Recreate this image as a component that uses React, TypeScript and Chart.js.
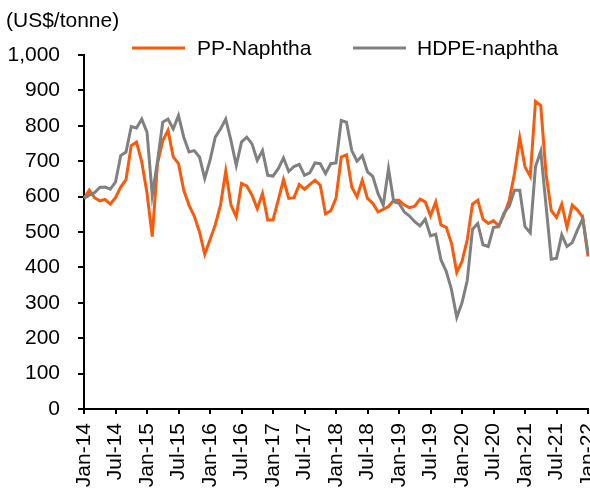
import React, { useEffect, useRef } from 'react';
import { Chart, registerables } from 'chart.js';

Chart.register(...registerables);

// ---- Data ----
const MONTH_NAMES = ['Jan', 'Feb', 'Mar', 'Apr', 'May', 'Jun', 'Jul', 'Aug', 'Sep', 'Oct', 'Nov', 'Dec'];
const START_YEAR = 14; // Jan-14 ... Jan-22, monthly

const ppNaphtha = [
  595, 618, 597, 588, 592, 579, 597, 627, 648, 744,
  754, 698, 610, 487, 693, 758, 787, 712, 693, 618,
  576, 545, 500, 437, 478, 520, 576, 672, 576, 543,
  637, 630, 604, 566, 609, 534, 534, 590, 648, 595,
  597, 634, 621, 634, 646, 632, 551, 560, 595, 712,
  718, 627, 599, 646, 595, 581, 557, 564, 572, 590,
  590, 576, 569, 573, 593, 585, 546, 585, 520, 513,
  468, 386, 417, 478, 579, 590, 536, 524, 532, 517,
  548, 590, 665, 766, 684, 657, 869, 857, 665, 560,
  541, 579, 513, 576, 562, 541, 431,
];

const hdpeNaphtha = [
  595, 604, 611, 626, 627, 621, 641, 716, 726, 798,
  794, 819, 782, 604, 700, 810, 819, 791, 829, 768,
  726, 730, 712, 651, 702, 768, 791, 819, 758, 688,
  754, 768, 749, 702, 730, 660, 658, 679, 709, 671,
  685, 691, 660, 667, 695, 693, 665, 693, 695, 815,
  810, 730, 700, 716, 670, 657, 609, 576, 679, 585,
  581, 557, 545, 529, 517, 536, 489, 494, 421, 389,
  337, 259, 300, 363, 508, 524, 464, 459, 513, 515,
  554, 573, 618, 618, 515, 498, 685, 728, 576, 423,
  426, 492, 459, 470, 506, 538, 440,
];

const categories = ppNaphtha.map(
  (_, i) => `${MONTH_NAMES[i % 12]}-${START_YEAR + Math.floor(i / 12)}`
);

const SERIES_NAMES = ['PP-Naphtha', 'HDPE-naphtha'];
const SERIES_COLORS = ['#FA5A0A', '#808080'];
const UNIT_LABEL = '(US$/tonne)';
const Y_MIN = 0;
const Y_MAX = 1000;
const Y_STEP = 100;
const LABEL_EVERY = 6;

const FONT_FAMILY = '"Liberation Sans", Arial, Helvetica, sans-serif';
const FONT_SIZE = 21;

const headerPlugin = {
  id: 'headerText',
  afterDraw(chart: any) {
    const ctx = chart.ctx;
    ctx.save();
    ctx.fillStyle = '#000';
    ctx.font = `${FONT_SIZE}px ${FONT_FAMILY}`;
    ctx.textBaseline = 'alphabetic';
    ctx.textAlign = 'left';
    ctx.fillText(UNIT_LABEL, 6, 27);

    const items = [
      { lineX: 132, textX: 197 },
      { lineX: 353, textX: 417 },
    ];
    chart.data.datasets.forEach((ds: any, i: number) => {
      const pos = items[i];
      if (!pos) return;
      ctx.strokeStyle = ds.borderColor;
      ctx.lineWidth = 3;
      ctx.beginPath();
      ctx.moveTo(pos.lineX, 48);
      ctx.lineTo(pos.lineX + 53, 48);
      ctx.stroke();
      ctx.fillStyle = '#000';
      ctx.fillText(ds.label, pos.textX, 55);
    });
    ctx.restore();
  },
};

export default function App() {
  const canvasRef = useRef<HTMLCanvasElement | null>(null);

  useEffect(() => {
    if (!canvasRef.current) return;
    const font = { family: FONT_FAMILY, size: FONT_SIZE };
    const chart = new Chart(canvasRef.current, {
      type: 'line',
      data: {
        labels: categories,
        datasets: [
          {
            label: SERIES_NAMES[0],
            data: ppNaphtha,
            borderColor: SERIES_COLORS[0],
            backgroundColor: SERIES_COLORS[0],
            borderWidth: 3,
            pointRadius: 0,
            tension: 0,
            order: 1,
          },
          {
            label: SERIES_NAMES[1],
            data: hdpeNaphtha,
            borderColor: SERIES_COLORS[1],
            backgroundColor: SERIES_COLORS[1],
            borderWidth: 3,
            pointRadius: 0,
            tension: 0,
            order: 0,
          },
        ],
      },
      options: {
        responsive: false,
        animation: false,
        events: [],
        layout: { padding: { top: 55, right: 2, bottom: 0, left: 0 } },
        plugins: {
          legend: { display: false },
          title: { display: false },
          tooltip: { enabled: false },
        },
        scales: {
          x: {
            type: 'category',
            offset: false,
            grid: {
              display: true,
              drawOnChartArea: false,
              drawTicks: true,
              tickLength: 5,
              lineWidth: 2,
              color: (ctx: any) =>
                ctx.index !== undefined && ctx.index % LABEL_EVERY === 0 ? '#000' : 'rgba(0,0,0,0)',
            },
            border: { display: true, color: '#000', width: 2 },
            ticks: {
              autoSkip: false,
              maxRotation: 90,
              minRotation: 90,
              padding: 9,
              color: '#000',
              font,
              callback: function (this: any, value: any, index: number) {
                return index % LABEL_EVERY === 0 ? this.getLabelForValue(value) : '';
              },
            },
            afterFit: (scale: any) => {
              scale.height = 79;
              scale.paddingLeft = 0;
              scale.paddingRight = 0;
            },
          },
          y: {
            min: Y_MIN,
            max: Y_MAX,
            grid: {
              display: true,
              drawOnChartArea: false,
              drawTicks: true,
              tickLength: 6,
              lineWidth: 2,
              color: '#000',
            },
            border: { display: true, color: '#000', width: 2 },
            ticks: {
              stepSize: Y_STEP,
              padding: 18,
              color: '#000',
              font,
            },
            afterFit: (scale: any) => {
              scale.width = 84;
            },
          },
        },
      },
      plugins: [headerPlugin],
    } as any);
    return () => chart.destroy();
  }, []);

  return (
    <div
      style={{
        position: 'absolute',
        left: 0,
        top: 0,
        width: 590,
        height: 488,
        overflow: 'hidden',
        background: '#fff',
      }}
    >
      <canvas ref={canvasRef} width={590} height={488} style={{ width: 590, height: 488 }} />
    </div>
  );
}
